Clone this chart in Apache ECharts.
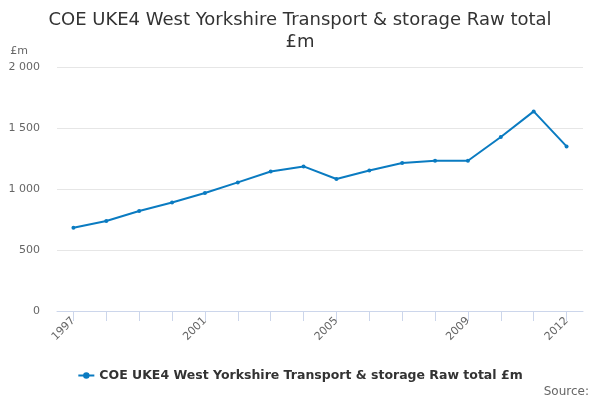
<!DOCTYPE html>
<html>
<head>
<meta charset="utf-8">
<script src="https://cdn.jsdelivr.net/npm/echarts@6/dist/echarts.min.js"></script>
<style>html,body{margin:0;padding:0;background:#fff}#c{width:600px;height:400px}</style>
</head>
<body>
<div id="c"></div>
<script>
var categories = ['1997','1998','1999','2000','2001','2002','2003','2004','2005','2006','2007','2008','2009','2010','2011','2012'];
var values = [683, 738, 820, 890, 967, 1054, 1144, 1185, 1082, 1152, 1213, 1232, 1232, 1426, 1636, 1349];
var shownLabels = ['1997','2001','2005','2009','2012'];
var seriesName = 'COE UKE4 West Yorkshire Transport & storage Raw total £m';

var chart = echarts.init(document.getElementById('c'));
chart.setOption({
  animation: false,
  textStyle: {fontFamily: 'DejaVu Sans'},
  title: [{
    text: 'COE UKE4 West Yorkshire Transport & storage Raw total\n£m',
    left: 'center', top: 4,
    textStyle: {fontSize: 18, fontWeight: 'normal', color: '#333', lineHeight: 22, fontFamily: 'DejaVu Sans'}
  }, {
    text: 'Source:', right: 6, top: 381,
    textStyle: {fontSize: 12, fontWeight: 'normal', color: '#666', fontFamily: 'DejaVu Sans'}
  }],
  legend: {
    data: [seriesName],
    top: 364, left: 'center',
    itemWidth: 16, itemHeight: 8,
    textStyle: {fontSize: 12.5, fontWeight: 'bold', color: '#333'}
  },
  grid: {left: 57, right: 17, top: 67, bottom: 89, containLabel: false},
  xAxis: {
    type: 'category', data: categories, boundaryGap: true,
    axisLine: {show: true, lineStyle: {color: '#ccd6eb'}},
    axisTick: {show: true, alignWithLabel: true, length: 10, lineStyle: {color: '#ccd6eb'}, interval: 0},
    axisLabel: {
      interval: 0, rotate: 45, color: '#666', fontSize: 11, margin: 8,
      formatter: function (v) { return shownLabels.indexOf(v) >= 0 ? v : ''; }
    }
  },
  yAxis: {
    type: 'value', min: 0, max: 2000, interval: 500,
    name: '£m', nameLocation: 'end', nameGap: 10,
    nameTextStyle: {color: '#666', fontSize: 11, align: 'right', padding: [0, 29, 0, 0]},
    axisLine: {show: false}, axisTick: {show: false},
    splitLine: {lineStyle: {color: '#e6e6e6'}},
    axisLabel: {
      color: '#666', fontSize: 11, margin: 17,
      formatter: function (v) { return String(v).replace(/\B(?=(\d{3})+(?!\d))/g, ' '); }
    }
  },
  series: [{
    name: seriesName, type: 'line', data: values,
    color: '#0a7bc1',
    lineStyle: {width: 2, color: '#0a7bc1'},
    symbol: 'circle', symbolSize: 4,
    itemStyle: {color: '#0a7bc1'}
  }]
});
</script>
</body>
</html>
